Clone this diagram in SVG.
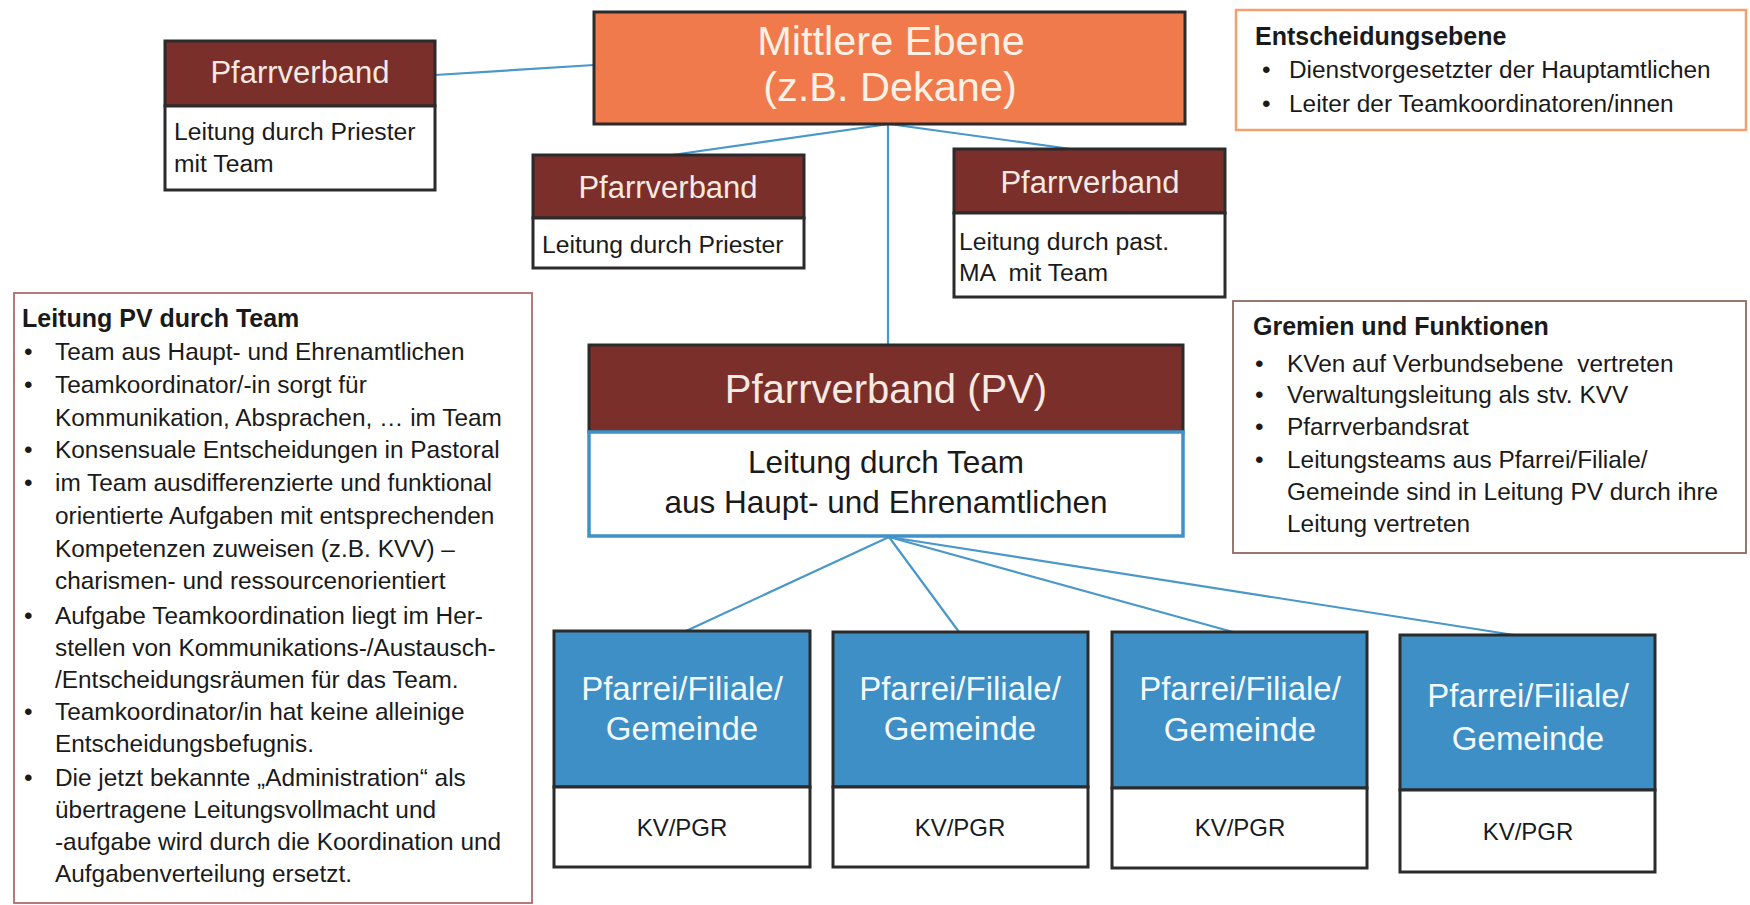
<svg xmlns="http://www.w3.org/2000/svg" width="1750" height="905" viewBox="0 0 1750 905">
<style>
text{font-family:"Liberation Sans",Arial,sans-serif;}
.hdr{fill:#7A2F2A;stroke:#2B2B2B;stroke-width:3;}
.body{fill:#FFFFFF;stroke:#2B2B2B;stroke-width:3;}
.blue{fill:#3D8FC6;stroke:#2B2B2B;stroke-width:3;}
.ht{fill:#F6E9E2;font-size:31px;text-anchor:middle;}
.bt{fill:#1A1A1A;font-size:24.7px;}
.pt{fill:#F2F8FC;font-size:33px;text-anchor:middle;}
.kv{fill:#1A1A1A;font-size:24px;text-anchor:middle;}
.st{fill:#1A1A1A;font-size:24.4px;}
.sh{fill:#1A1A1A;font-size:25px;font-weight:bold;}
.con{stroke:#4A97C9;stroke-width:2.2;fill:none;}
</style>
<rect width="1750" height="905" fill="#FFFFFF"/>
<g id="connectors">
<line class="con" x1="435" y1="75" x2="594" y2="65"/>
<line class="con" x1="889" y1="124" x2="672" y2="155"/>
<line class="con" x1="889" y1="124" x2="1078" y2="150"/>
<line class="con" x1="888" y1="124" x2="888" y2="345"/>
<line class="con" x1="889" y1="537" x2="686" y2="631"/>
<line class="con" x1="889" y1="537" x2="959" y2="632"/>
<line class="con" x1="889" y1="537" x2="1233" y2="632"/>
<line class="con" x1="889" y1="537" x2="1514" y2="635"/>
</g>
<g id="mittlere">
<rect x="594" y="12" width="591" height="112" fill="#F07A4C" stroke="#2B2B2B" stroke-width="3"/>
<text x="891" y="55" font-size="41.5" fill="#FDF0E4" text-anchor="middle">Mittlere Ebene</text>
<text x="890" y="101" font-size="41.5" fill="#FDF0E4" text-anchor="middle">(z.B. Dekane)</text>
</g>
<g id="pv-topleft">
<rect class="hdr" x="165" y="41" width="270" height="65"/>
<rect class="body" x="165" y="106" width="270" height="84"/>
<text class="ht" x="300" y="83">Pfarrverband</text>
<text class="bt" x="174" y="140">Leitung durch Priester</text>
<text class="bt" x="174" y="172">mit Team</text>
</g>
<g id="pv-midleft">
<rect class="hdr" x="533" y="155" width="271" height="63"/>
<rect class="body" x="533" y="218" width="271" height="50"/>
<text class="ht" x="668" y="198">Pfarrverband</text>
<text class="bt" x="542" y="253">Leitung durch Priester</text>
</g>
<g id="pv-midright">
<rect class="hdr" x="954" y="149" width="271" height="64"/>
<rect class="body" x="954" y="213" width="271" height="84"/>
<text class="ht" x="1090" y="193">Pfarrverband</text>
<text class="bt" x="959" y="250">Leitung durch past.</text>
<text class="bt" x="959" y="281" xml:space="preserve">MA  mit Team</text>
</g>
<g id="pv-main">
<rect class="hdr" x="589" y="345" width="594" height="87"/>
<rect x="589" y="432" width="594" height="104" fill="#FFFFFF" stroke="#3E92C9" stroke-width="3.5"/>
<text x="886" y="403" font-size="40" fill="#F6E9E2" text-anchor="middle">Pfarrverband (PV)</text>
<text x="886" y="473" font-size="31.5" fill="#1A1A1A" text-anchor="middle">Leitung durch Team</text>
<text x="886" y="513" font-size="31.5" fill="#1A1A1A" text-anchor="middle">aus Haupt- und Ehrenamtlichen</text>
</g>
<g id="pfarrei1">
<rect class="blue" x="554" y="631" width="256" height="156"/>
<rect class="body" x="554" y="787" width="256" height="80"/>
<text class="pt" x="682" y="700">Pfarrei/Filiale/</text>
<text class="pt" x="682" y="740">Gemeinde</text>
<text class="kv" x="682" y="836">KV/PGR</text>
</g>
<g id="pfarrei2">
<rect class="blue" x="833" y="632" width="255" height="155"/>
<rect class="body" x="833" y="787" width="255" height="80"/>
<text class="pt" x="960" y="700">Pfarrei/Filiale/</text>
<text class="pt" x="960" y="740">Gemeinde</text>
<text class="kv" x="960" y="836">KV/PGR</text>
</g>
<g id="pfarrei3">
<rect class="blue" x="1112" y="632" width="255" height="156"/>
<rect class="body" x="1112" y="788" width="255" height="80"/>
<text class="pt" x="1240" y="700">Pfarrei/Filiale/</text>
<text class="pt" x="1240" y="741">Gemeinde</text>
<text class="kv" x="1240" y="836">KV/PGR</text>
</g>
<g id="pfarrei4">
<rect class="blue" x="1400" y="635" width="255" height="155"/>
<rect class="body" x="1400" y="790" width="255" height="82"/>
<text class="pt" x="1528" y="707">Pfarrei/Filiale/</text>
<text class="pt" x="1528" y="750">Gemeinde</text>
<text class="kv" x="1528" y="840">KV/PGR</text>
</g>
<g id="entscheidungsebene">
<rect x="1236" y="10" width="510" height="120" fill="#FFFFFF" stroke="#F2A06E" stroke-width="2.5"/>
<text class="sh" x="1255" y="45">Entscheidungsebene</text>
<text class="st" x="1262" y="78">•</text>
<text class="st" x="1289" y="78">Dienstvorgesetzter der Hauptamtlichen</text>
<text class="st" x="1262" y="112">•</text>
<text class="st" x="1289" y="112">Leiter der Teamkoordinatoren/innen</text>
</g>
<g id="gremien">
<rect x="1233" y="301" width="513" height="252" fill="#FFFFFF" stroke="#8C6A5E" stroke-width="1.8"/>
<text class="sh" x="1253" y="335">Gremien und Funktionen</text>
<text class="st" x="1255" y="372">•</text>
<text class="st" x="1287" y="372" xml:space="preserve">KVen auf Verbundsebene  vertreten</text>
<text class="st" x="1255" y="403">•</text>
<text class="st" x="1287" y="403">Verwaltungsleitung als stv. KVV</text>
<text class="st" x="1255" y="435">•</text>
<text class="st" x="1287" y="435">Pfarrverbandsrat</text>
<text class="st" x="1255" y="468">•</text>
<text class="st" x="1287" y="468">Leitungsteams aus Pfarrei/Filiale/</text>
<text class="st" x="1287" y="500">Gemeinde sind in Leitung PV durch ihre</text>
<text class="st" x="1287" y="532">Leitung vertreten</text>
</g>
<g id="leitung-pv">
<rect x="14" y="293" width="518" height="610" fill="#FFFFFF" stroke="#B36B6B" stroke-width="1.8"/>
<text class="sh" x="22" y="327">Leitung PV durch Team</text>
<text class="st" x="24" y="360">•</text>
<text class="st" x="55" y="360">Team aus Haupt- und Ehrenamtlichen</text>
<text class="st" x="24" y="393">•</text>
<text class="st" x="55" y="393">Teamkoordinator/-in sorgt für</text>
<text class="st" x="55" y="426">Kommunikation, Absprachen, … im Team</text>
<text class="st" x="24" y="458">•</text>
<text class="st" x="55" y="458">Konsensuale Entscheidungen in Pastoral</text>
<text class="st" x="24" y="491">•</text>
<text class="st" x="55" y="491">im Team ausdifferenzierte und funktional</text>
<text class="st" x="55" y="524">orientierte Aufgaben mit entsprechenden</text>
<text class="st" x="55" y="557">Kompetenzen zuweisen (z.B. KVV) –</text>
<text class="st" x="55" y="589">charismen- und ressourcenorientiert</text>
<text class="st" x="24" y="624">•</text>
<text class="st" x="55" y="624">Aufgabe Teamkoordination liegt im Her-</text>
<text class="st" x="55" y="656">stellen von Kommunikations-/Austausch-</text>
<text class="st" x="55" y="688">/Entscheidungsräumen für das Team.</text>
<text class="st" x="24" y="720">•</text>
<text class="st" x="55" y="720">Teamkoordinator/in hat keine alleinige</text>
<text class="st" x="55" y="752">Entscheidungsbefugnis.</text>
<text class="st" x="24" y="786">•</text>
<text class="st" x="55" y="786">Die jetzt bekannte „Administration“ als</text>
<text class="st" x="55" y="818">übertragene Leitungsvollmacht und</text>
<text class="st" x="55" y="850">-aufgabe wird durch die Koordination und</text>
<text class="st" x="55" y="882">Aufgabenverteilung ersetzt.</text>
</g>
</svg>
